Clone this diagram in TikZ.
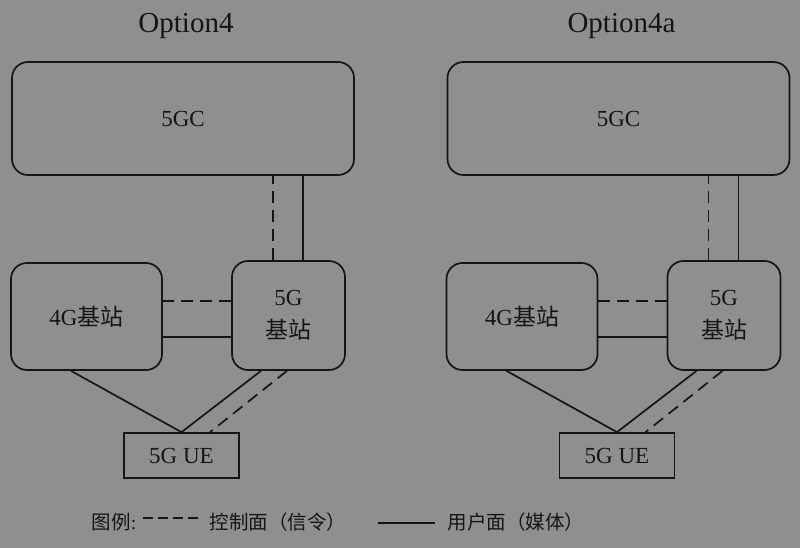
\documentclass[tikz,border=0pt]{standalone}
\usepackage{fontspec}
\setmainfont{Liberation Serif}
\newfontfamily\cjk{Noto Sans CJK SC}
\definecolor{bggray}{HTML}{8F8F8F}
\definecolor{ink}{HTML}{151515}

\begin{document}
\begin{tikzpicture}[x=1pt,y=-1pt,line width=1.7pt,color=ink,
  box/.style={draw, rectangle, rounded corners=16pt, inner sep=0pt, align=center, font=\fontsize{23}{33}\selectfont},
  uebox/.style={draw, rectangle, inner sep=0pt, font=\fontsize{23}{26}\selectfont},
  keytext/.style={anchor=west, inner sep=0pt, font=\fontsize{19.5}{21}\selectfont},
  ctrl/.style={dash pattern=on 12pt off 7pt}]
\fill[bggray] (0,0) rectangle (800,548);

\foreach \s/\dx/\lbl in {L/0/Option4, R/435.5/Option4a}{
  \node[font=\fontsize{29}{31}\selectfont] (title\s) at (\dx+186,26) {\lbl};
  \node[box, minimum width=342pt, minimum height=113pt] (core\s) at (\dx+183,118.5) {5GC};
  \node[box, minimum width=151pt, minimum height=107pt] (lte\s) at (\dx+86.5,316.5) {4G{\cjk 基站}};
  \node[box, minimum width=113pt, minimum height=109pt] (gnb\s) at (\dx+288.5,315.5) {5G\\{\cjk 基站}};
  \node[uebox, minimum width=115pt, minimum height=45pt] (ue\s) at (\dx+181.5,455.5) {5G UE};

  % core <-> 5G
  \draw[ctrl] ([xshift=-15.5pt]gnb\s.north) coordinate (a) -- (a |- core\s.south);
  \draw ([xshift=14.5pt]gnb\s.north) coordinate (b) -- (b |- core\s.south);
  % 4G <-> 5G
  \draw[ctrl] ([yshift=14.5pt]gnb\s.west) coordinate (c) -- (c -| lte\s.east);
  \draw ([yshift=-21.5pt]gnb\s.west) coordinate (d) -- (d -| lte\s.east);
  % to UE
  \draw ([xshift=-15.5pt]lte\s.south) -- (ue\s.north);
  \draw ([xshift=-27.5pt]gnb\s.south) -- (ue\s.north);
  \draw[ctrl] ([xshift=-1.5pt]gnb\s.south) -- ([xshift=28.5pt]ue\s.north);
}

% legend
\node[keytext] (key) at (91,522) {{\cjk 图例}:};
\node[keytext] (ctrlLbl) at (209,522) {\cjk 控制面（信令）};
\node[keytext] (userLbl) at (447,522) {\cjk 用户面（媒体）};
\coordinate (k1) at (143,518);
\coordinate (k2) at (198,518);
\coordinate (k3) at (378,523);
\coordinate (k4) at (435,523);
\draw[dash pattern=on 10pt off 5pt] (k1) -- (k2);
\draw (k3) -- (k4);
\end{tikzpicture}
\end{document}
